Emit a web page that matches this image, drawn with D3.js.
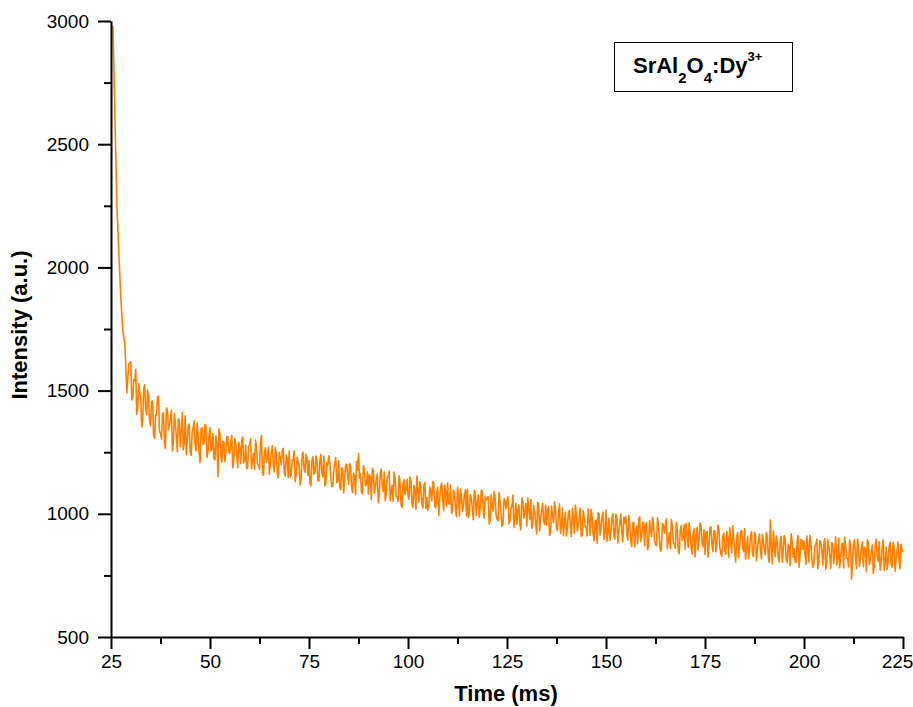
<!DOCTYPE html>
<html>
<head>
<meta charset="utf-8">
<script src="https://cdn.jsdelivr.net/npm/d3@7"></script>
<style>
  body { margin: 0; background: #fff; }
  text { font-family: "Liberation Sans", Arial, Helvetica, sans-serif; }
</style>
</head>
<body>
<svg width="913" height="707"></svg>
<script>
// readings at 25.5, 26.0, 26.5 ... 225 ms
var tStart = 25.5, tStep = 0.5;
var intensity = [
  2980, 2600, 2250, 2050, 1870, 1740, 1690, 1490, 1610,
  1617, 1469, 1538, 1404, 1529, 1472, 1380, 1524, 1402, 1476,
  1358, 1458, 1306, 1399, 1478, 1326, 1405, 1288, 1430, 1341,
  1389, 1255, 1407, 1318, 1386, 1271, 1411, 1289, 1240, 1360,
  1250, 1332, 1377, 1255, 1318, 1208, 1349, 1287, 1356, 1252,
  1350, 1262, 1225, 1317, 1150, 1327, 1210, 1292, 1250, 1312,
  1245, 1318, 1211, 1284, 1187, 1270, 1298, 1206, 1279, 1187,
  1280, 1183, 1246, 1299, 1202, 1180, 1318, 1156, 1268, 1227,
  1160, 1253, 1196, 1269, 1167, 1250, 1198, 1266, 1154, 1227,
  1255, 1159, 1217, 1131, 1229, 1198, 1141, 1250, 1168, 1227,
  1215, 1114, 1232, 1166, 1219, 1133, 1241, 1150, 1113, 1207,
  1235, 1148, 1111, 1204, 1127, 1215, 1098, 1181, 1139, 1202,
  1120, 1193, 1086, 1154, 1212, 1245, 1163, 1081, 1184, 1122,
  1080, 1148, 1186, 1084, 1137, 1045, 1163, 1111, 1169, 1082,
  1150, 1053, 1116, 1169, 1072, 1050, 1128, 1026, 1139, 1097,
  1075, 1149, 1042, 1116, 1019, 1103, 1131, 1040, 1113, 1022,
  1015, 1109, 1052, 1126, 1024, 1108, 1056, 1125, 1013, 1087,
  1125, 1039, 1002, 1096, 1019, 1108, 991, 1075, 1033, 1097,
  1100, 1004, 1062, 976, 1074, 1043, 986, 1095, 1013, 1072,
  1060, 959, 1077, 1011, 1064, 978, 1086, 995, 958, 1052,
  1055, 959, 1022, 1076, 979, 958, 1036, 935, 1048, 1007,
  950, 1019, 1057, 956, 1009, 918, 1036, 985, 1043, 957,
  955, 1029, 922, 991, 1049, 943, 1001, 920, 1023, 962,
  910, 1004, 948, 1022, 921, 1005, 954, 1023, 912, 986,
  945, 1019, 913, 987, 891, 975, 1004, 913, 987, 896,
  1015, 928, 892, 985, 909, 998, 881, 965, 923, 986,
  990, 894, 953, 867, 966, 935, 879, 988, 907, 966,
  955, 854, 973, 907, 961, 875, 984, 893, 857, 951,
  955, 859, 923, 977, 881, 860, 939, 838, 952, 911,
  855, 924, 963, 862, 916, 825, 944, 893, 952, 866,
  835, 929, 873, 947, 846, 930, 879, 938, 837, 911,
  855, 929, 823, 892, 951, 845, 904, 823, 927, 866,
  940, 854, 818, 912, 836, 925, 809, 893, 852, 916,
  850, 924, 818, 975, 796, 881, 910, 819, 894, 803,
  912, 816, 876, 790, 889, 859, 803, 912, 832, 891,
  890, 795, 859, 914, 818, 798, 877, 777, 891, 851,
  875, 775, 894, 829, 883, 798, 907, 817, 781, 876,
  780, 875, 819, 894, 735, 878, 827, 897, 786, 861,
  785, 855, 894, 794, 848, 758, 877, 827, 886, 801,
  895, 810, 774, 869, 793, 883, 767, 852, 811, 876, 845
];

// in-between readings at 30.25, 30.75 ... 224.75 ms
var tMidStart = 30.25;
var intensityMid = [
  1462, 1545, 1586, 1431, 1493, 1352, 1508, 1428, 1502, 1373,
  1454, 1316, 1402, 1474, 1336, 1303, 1410, 1265, 1421, 1360,
  1420, 1292, 1366, 1251, 1378, 1335, 1259, 1398, 1290, 1364,
  1237, 1348, 1280, 1367, 1245, 1344, 1282, 1363, 1229, 1316,
  1254, 1326, 1219, 1286, 1344, 1236, 1294, 1211, 1314, 1251,
  1289, 1187, 1305, 1238, 1291, 1204, 1312, 1220, 1183, 1276,
  1304, 1217, 1180, 1273, 1196, 1284, 1167, 1250, 1208, 1271,
  1204, 1277, 1170, 1243, 1146, 1229, 1257, 1165, 1238, 1146,
  1149, 1218, 1256, 1155, 1208, 1117, 1235, 1184, 1242, 1156,
  1124, 1218, 1161, 1235, 1133, 1217, 1165, 1234, 1122, 1196,
  1209, 1112, 1175, 1228, 1131, 1109, 1187, 1085, 1198, 1156,
  1204, 1107, 1165, 1078, 1176, 1144, 1087, 1195, 1113, 1171,
  1159, 1057, 1175, 1108, 1161, 1074, 1182, 1090, 1053, 1146,
  1174, 1087, 1050, 1143, 1066, 1154, 1037, 1120, 1078, 1141,
  1059, 1133, 1026, 1095, 1153, 1047, 1105, 1024, 1127, 1066,
  1024, 1093, 1131, 1030, 1083, 992, 1110, 1059, 1117, 1031,
  1044, 1118, 1011, 1085, 988, 1072, 1100, 1009, 1082, 991,
  984, 1078, 1021, 1095, 993, 1077, 1025, 1094, 982, 1056,
  1069, 973, 1036, 1090, 993, 972, 1050, 949, 1062, 1021,
  1069, 973, 1031, 945, 1043, 1012, 955, 1064, 982, 1041,
  1064, 978, 941, 1035, 958, 1047, 930, 1014, 972, 1036,
  1014, 913, 1031, 965, 1018, 932, 1040, 949, 912, 1006,
  940, 1014, 908, 977, 1036, 930, 989, 908, 1012, 951,
  910, 979, 1018, 917, 971, 880, 999, 948, 1007, 921,
  889, 983, 926, 1000, 898, 982, 930, 999, 887, 961,
  920, 994, 888, 962, 866, 950, 979, 888, 962, 871,
  965, 869, 933, 987, 891, 870, 949, 848, 962, 921,
  980, 894, 858, 952, 876, 965, 849, 933, 892, 956,
  960, 864, 923, 837, 939, 908, 853, 962, 881, 936,
  925, 824, 943, 877, 931, 845, 954, 863, 827, 921,
  835, 904, 943, 842, 896, 805, 924, 873, 932, 846,
  815, 909, 853, 927, 826, 910, 859, 918, 817, 891,
  835, 909, 803, 872, 931, 826, 885, 804, 909, 848,
  897, 801, 866, 920, 824, 804, 883, 782, 897, 856,
  835, 910, 804, 879, 783, 868, 897, 807, 881, 791,
  900, 805, 864, 779, 878, 848, 792, 902, 821, 881,
  905, 820, 784, 879, 803, 893, 777, 862, 821, 886,
  865, 765, 884, 819, 873, 788, 897, 807, 771, 866,
  770, 865, 809, 884, 783, 868, 817, 886, 776, 851
];

var xMajor = [25, 50, 75, 100, 125, 150, 175, 200, 225];
var xMinor = [37.5, 62.5, 87.5, 112.5, 137.5, 162.5, 187.5, 212.5];
var yMajor = [500, 1000, 1500, 2000, 2500, 3000];
var yMinor = [750, 1250, 1750, 2250, 2750];

var svg = d3.select("svg");

var x = d3.scaleLinear().domain([25, 225]).range([111, 903]);
var y = d3.scaleLinear().domain([500, 3000]).range([637, 21]);

var points = intensity.map(function(v, i) {
  return { t: tStart + i * tStep, v: v };
}).concat(intensityMid.map(function(v, i) {
  return { t: tMidStart + i * tStep, v: v };
}));
points.sort(function(a, b) { return a.t - b.t; });

// data line
var line = d3.line()
    .x(function(d) { return x(d.t); })
    .y(function(d) { return y(d.v); });

svg.append("path")
    .datum(points)
    .attr("fill", "none")
    .attr("stroke", "#ff8000")
    .attr("stroke-width", 1.6)
    .attr("stroke-linejoin", "round")
    .attr("d", line);

// minor ticks first so axes sit on top
var gx = svg.append("g").attr("transform", "translate(0,637)");
gx.call(d3.axisBottom(x).tickValues(xMinor).tickSize(7).tickSizeOuter(0).tickFormat(""));
gx.call(function(g) { g.select(".domain").remove(); });

var gy = svg.append("g").attr("transform", "translate(111,0)");
gy.call(d3.axisLeft(y).tickValues(yMinor).tickSize(7).tickSizeOuter(0).tickFormat(""));
gy.call(function(g) { g.select(".domain").remove(); });

var xAxis = svg.append("g")
    .attr("transform", "translate(0,637)")
    .call(d3.axisBottom(x).tickValues(xMajor).tickSize(12).tickSizeOuter(0)
      .tickPadding(6).tickFormat(d3.format("d")));

var yAxis = svg.append("g")
    .attr("transform", "translate(111,0)")
    .call(d3.axisLeft(y).tickValues(yMajor).tickSize(13).tickSizeOuter(0)
      .tickPadding(9).tickFormat(d3.format("d")));

svg.selectAll(".tick line").attr("stroke", "#000").attr("stroke-width", 2);
svg.selectAll(".domain").attr("stroke", "#000").attr("stroke-width", 2);
svg.selectAll(".tick text")
    .attr("fill", "#000")
    .style("font-size", "19px")
    .style("font-family", "'Liberation Sans', Arial, sans-serif");

// last x label is pulled in so it stays inside the frame
xAxis.selectAll(".tick text").filter(function(d) { return d === 225; })
    .attr("dx", -6);

// axis titles
svg.append("text")
    .attr("x", 506).attr("y", 701)
    .attr("text-anchor", "middle")
    .style("font-size", "22px").style("font-weight", "bold")
    .text("Time (ms)");

svg.append("text")
    .attr("transform", "translate(27,325) rotate(-90)")
    .attr("text-anchor", "middle")
    .style("font-size", "22px").style("font-weight", "bold")
    .text("Intensity (a.u.)");

// label box
svg.append("rect")
    .attr("x", 614.5).attr("y", 42.5)
    .attr("width", 178).attr("height", 49)
    .attr("fill", "#fff").attr("stroke", "#000").attr("stroke-width", 1);

var lbl = svg.append("text")
    .attr("x", 633).attr("y", 73)
    .style("font-size", "22px").style("font-weight", "bold");
lbl.append("tspan").text("SrAl");
lbl.append("tspan").attr("dy", 10).style("font-size", "15px").text("2");
lbl.append("tspan").attr("dy", -10).text("O");
lbl.append("tspan").attr("dy", 10).style("font-size", "15px").text("4");
lbl.append("tspan").attr("dy", -10).text(":Dy");
lbl.append("tspan").attr("dy", -12).style("font-size", "13px").text("3+");
</script>
</body>
</html>
